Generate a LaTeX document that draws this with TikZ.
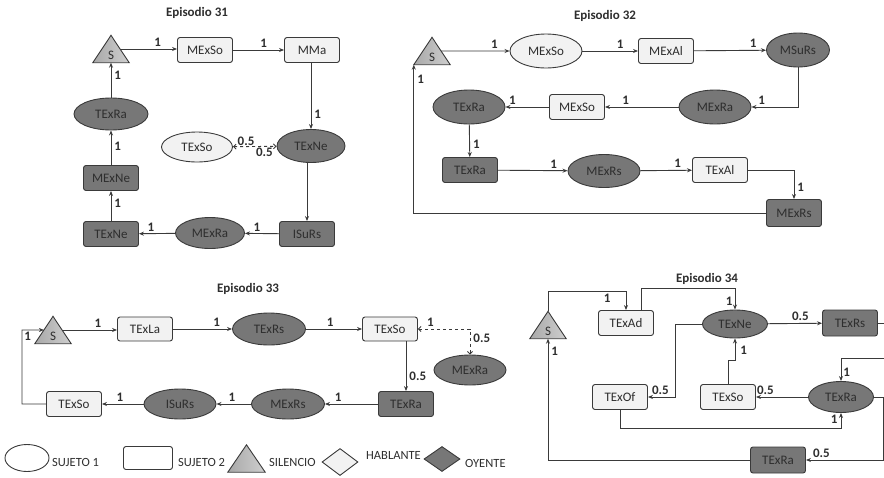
\documentclass[tikz,border=0pt]{standalone}
\usepackage{fontspec}
\setmainfont{Carlito}
\usetikzlibrary{shapes.geometric,arrows.meta,calc}
\definecolor{dk}{HTML}{777777}
\definecolor{lt}{HTML}{F2F2F2}
\definecolor{ln}{HTML}{3A3A3A}
\definecolor{tx}{HTML}{2E2E2E}
\definecolor{trl}{HTML}{A8A8A8}
\definecolor{trr}{HTML}{CFCFCF}
\pgfdeclarelayer{bg}
\pgfsetlayers{bg,main}
\newcommand{\silS}{\raisebox{-10pt}[0pt][0pt]{S}}
\tikzset{
 base/.style={draw=ln, line width=0.9pt, font=\fontsize{13}{15}\selectfont, text=tx, inner sep=0pt},
 lrect/.style={base, rectangle, rounded corners=2.5pt, fill=lt, minimum width=55pt, minimum height=25pt},
 drect/.style={lrect, fill=dk},
 lell/.style={base, ellipse, fill=lt, minimum width=72pt, minimum height=32pt},
 dell/.style={lell, fill=dk},
 silbox/.style={rectangle, inner sep=0pt, minimum width=36pt, minimum height=27pt, font=\fontsize{13}{15}\selectfont, text=tx},
 trist/.style={draw=ln, line width=0.9pt, left color=trl, right color=trr},
 ttl/.style={font=\bfseries\fontsize{13}{15}\selectfont, text=tx, inner sep=0pt},
 lab/.style={font=\bfseries\fontsize{13}{15}\selectfont, text=tx, inner sep=0pt},
 leg/.style={font=\fontsize{12.5}{14}\selectfont, text=tx, inner sep=0pt, anchor=west},
 con/.style={draw=ln, line width=0.9pt, -{Stealth[length=5pt,width=4pt]}},
 dcon/.style={draw=ln, line width=0.9pt, dashed, {Straight Barb[length=2.5pt,width=5pt]}-{Straight Barb[length=2.5pt,width=5pt]}},
}
\begin{document}
\begin{tikzpicture}[x=1pt,y=-1pt]
\useasboundingbox (0,0) rectangle (884,477);
% ---------------- Episodio 31
\node[ttl] (t31) at (197,13) {Episodio 31};
\node[silbox] (s31) at (111,49) {\silS};
\node[lrect] (a1) at (205,50) {MExSo};
\node[lrect] (a2) at (312,50) {MMa};
\node[dell, minimum width=68pt, minimum height=33pt] (a3) at (311,146) {TExNe};
\node[lell, minimum width=71pt, minimum height=30pt] (a4) at (197,147) {TExSo};
\node[drect] (a5) at (307,234) {ISuRs};
\node[dell, minimum width=69pt, minimum height=31pt] (a6) at (210,233) {MExRa};
\node[drect] (a7) at (111,234) {TExNe};
\node[drect] (a8) at (111,178) {MExNe};
\node[dell, minimum width=74pt] (a9) at (111,114) {TExRa};
\coordinate (s31r) at ($(s31.north)!.5!(s31.south east)$);
\draw[con] (s31r) -- node[lab, pos=.66, above=2pt] {1} (s31r -| a1.west);
\draw[con] (a1) -- node[lab, pos=.6, above=2pt] {1} (a2);
\draw[con] (a2.south -| a3) -- node[lab, pos=.78, right=3pt] {1} (a3);
\draw[dcon] (a4) -- node[lab, pos=.3, above=1pt] {0.5} node[lab, pos=.72, below=1pt] {0.5} (a3);
\draw[con] (a3.south -| a5) -- (a5);
\draw[con] (a5) -- node[lab, pos=.65, above=2pt] {1} (a6);
\draw[con] (a6) -- node[lab, pos=.67, above=2pt] {1} (a7);
\draw[con] (a7) -- node[lab, pos=.6, right=3pt] {1} (a8);
\draw[con] (a8) -- node[lab, pos=.55, right=3pt] {1} (a9);
\draw[con] (a9) -- node[lab, pos=.65, right=3pt] {1} (s31.south);
% ---------------- Episodio 32
\node[ttl] (t32) at (605,16) {Episodio 32};
\node[silbox] (s32) at (432,51) {\silS};
\node[lell, minimum height=34pt] (b1) at (546,51) {MExSo};
\node[lrect] (b2) at (666,51) {MExAl};
\node[dell, minimum width=63pt, minimum height=34pt] (b3) at (798,50) {MSuRs};
\node[dell, minimum height=34pt] (b4) at (715,107) {MExRa};
\node[lrect] (b5) at (577,107) {MExSo};
\node[dell, minimum height=34pt] (b6) at (469,107) {TExRa};
\node[drect] (b7) at (470,170) {TExRa};
\node[dell, minimum height=33pt] (b8) at (604,171) {MExRs};
\node[lrect] (b9) at (720,170) {TExAl};
\node[drect, minimum height=27pt] (b10) at (794,213) {MExRs};
\coordinate (s32r) at ($(s32.north)!.5!(s32.south east)$);
\draw[con] (s32r) -- node[lab, pos=.78, above=2pt] {1} (b1);
\draw[con] (b1) -- node[lab, pos=.68, above=2pt] {1} (b2);
\draw[con] (b2) -- node[lab, pos=.82, above=2pt] {1} (b3);
\draw[con] (b3) |- node[lab, pos=.89, above=2pt] {1} (b4);
\draw[con] (b4) -- node[lab, pos=.72, above=2pt] {1} (b5);
\draw[con] (b5) -- node[lab, pos=.84, above=2pt] {1} (b6);
\draw[con] (b6) -- node[lab, pos=.6, right=3pt] {1} (b7);
\draw[con] (b7) -- node[lab, pos=.8, above=2pt] {1} (b8);
\draw[con] (b8) -- node[lab, pos=.72, above=2pt] {1} (b9);
\draw[con] (b9.east) -| node[lab, pos=.8, right=3pt] {1} (b10.north);
\draw[con] (b10.west) -| node[lab, pos=.95, right=3pt] {1} (s32.south west);
% ---------------- Episodio 33
\node[ttl] (t33) at (248,289) {Episodio 33};
\node[silbox] (s33) at (53,330) {\silS};
\node[lrect, minimum height=24pt] (c1) at (145,329) {TExLa};
\node[dell, minimum width=73pt] (c2) at (269,329) {TExRs};
\node[lrect, minimum height=24pt] (c3) at (390,329) {TExSo};
\node[dell, minimum height=30pt] (c4) at (470,370) {MExRa};
\node[drect] (c5) at (406,404) {TExRa};
\node[dell, minimum width=73pt, minimum height=30pt] (c6) at (288,404) {MExRs};
\node[dell, minimum height=30pt] (c7) at (180,404) {ISuRs};
\node[lrect] (c8) at (74,404) {TExSo};
\coordinate (s33r) at ($(s33.north)!.5!(s33.south east)$);
\coordinate (s33l) at ($(s33.north)!.5!(s33.south west)$);
\coordinate (k33) at (22,330);
\draw[con] (s33r) -- node[lab, pos=.65, above=2pt] {1} (s33r -| c1.west);
\draw[con] (c1) -- node[lab, pos=.74, above=2pt] {1} (c2);
\draw[con] (c2) -- node[lab, pos=.43, above=2pt] {1} (c3);
\draw[dcon] (c3.east) -| node[lab, pos=.12, above=2pt] {1} node[lab, pos=.69, right=3pt] {0.5} (c4.north);
\draw[con] (c3.south -| c5) -- node[lab, pos=.7, right=3pt] {0.5} (c5);
\draw[con] (c5) -- node[lab, pos=.75, above=2pt] {1} (c6);
\draw[con] (c6) -- node[lab, pos=.55, above=2pt] {1} (c7);
\draw[con] (c7) -- node[lab, pos=.57, above=2pt] {1} (c8);
\draw[con] (c8.west) -| (k33) node[lab, below right=2pt] {1} -- (s33l);
% ---------------- Episodio 34
\node[ttl] (t34) at (707,279) {Episodio 34};
\node[silbox] (s34) at (548,325) {\silS};
\node[lrect] (d1) at (626,323) {TExAd};
\node[dell, minimum width=65pt, minimum height=28pt] (d2) at (735,324) {TExNe};
\node[drect, minimum height=26pt] (d3) at (850,323) {TExRs};
\node[lrect] (d4) at (620,397) {TExOf};
\node[lrect] (d5) at (728,397) {TExSo};
\node[dell, minimum width=65pt, minimum height=31pt] (d6) at (841,397) {TExRa};
\node[drect, minimum height=26pt] (d7) at (778,460) {TExRa};
\coordinate (e1) at (548,291);
\coordinate (e2) at (641,288);
\coordinate (e3) at (675,324);
\coordinate (e4) at (728,360);
\coordinate (e5) at (735,360);
\coordinate (e6) at (620,428);
\coordinate (r1) at (884,323);
\coordinate (r2) at (884,358);
\coordinate (r3) at (883,397);
\draw[con] (s34.north) -- (e1) -| node[lab, pos=.38, below=3pt] {1} (d1.north);
\draw[con] ([xshift=15pt]d1.north) -- (e2) -| node[lab, pos=.8, left=2pt] {1} (d2.north);
\draw[con] (d2.west) -- (e3) |- node[lab, pos=.77, above=2pt] {0.5} (d4.east);
\draw[con] (d2) -- node[lab, pos=.6, above=2pt] {0.5} (d3);
\draw[draw=ln, line width=0.9pt] (d3.east) -- (r1);
\draw[con] (r2) -| node[lab, pos=.8, right=2pt] {1} (d6.north);
\draw[con] (d6.east) -- (r3) |- node[lab, pos=.9, above=2pt] {0.5} (d7.east);
\draw[con] (d6) -- node[lab, pos=.82, above=2pt] {0.5} (d5);
\draw[con] (d5.north) -- (e4) -- (e5) -- node[lab, pos=.45, right=5pt] {1} (d2.south);
\draw[con] (d4.south) -- (e6) -| node[lab, pos=.8, left=3pt] {1} (d6.south);
\draw[con] (d7.west) -| node[lab, pos=.95, right=3pt] {1} (s34.south);
% ---------------- Leyenda
\node[base, ellipse, fill=white, minimum width=44pt, minimum height=27pt] (l1) at (27,458) {};
\node[leg] (lt1) at (52,462) {SUJETO 1};
\node[base, rectangle, rounded corners=2.5pt, fill=white, minimum width=49pt, minimum height=23pt] (l2) at (148,458) {};
\node[leg] (lt2) at (178,462) {SUJETO 2};
\node[silbox, minimum width=37pt] (l3) at (246.5,458.5) {};
\node[leg] (lt3) at (269,462) {SILENCIO};
\node[base, diamond, fill=lt, minimum width=36pt, minimum height=27pt] (l4) at (340,462) {};
\node[leg] (lt4) at (366,455) {HABLANTE};
\node[base, diamond, fill=dk, minimum width=36pt, minimum height=25pt] (l5) at (442,459) {};
\node[leg] (lt5) at (465,463) {OYENTE};
% ---------------- triangles (silencio)
\begin{pgfonlayer}{bg}
\foreach \n in {s31,s32,s33,s34,l3}
  \draw[trist] (\n.south west) -- (\n.north) -- (\n.south east) -- cycle;
\end{pgfonlayer}
\end{tikzpicture}
\end{document}
